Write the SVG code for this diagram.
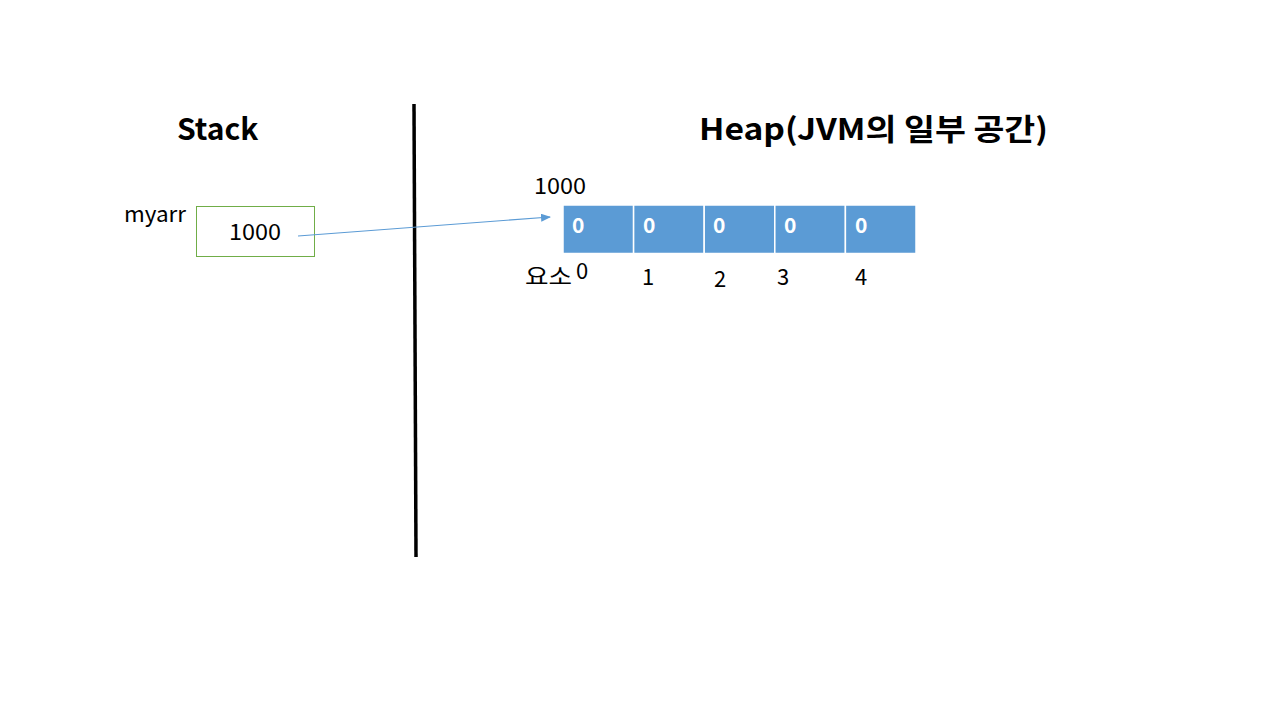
<svg xmlns="http://www.w3.org/2000/svg" width="1280" height="720" viewBox="0 0 1280 720">
<defs>
<style>
text{font-family:"Noto Sans CJK KR","Noto Sans",sans-serif;fill:#000}
.title{font-size:30px;font-weight:bold}
.lbl{font-size:22px}
.cell{fill:#5B9BD5;stroke:#fff;stroke-width:1.5}
.cv{font-size:21px;font-weight:bold;fill:#fff}
</style>
<marker id="ah" markerWidth="10" markerHeight="8" refX="9" refY="4" orient="auto" markerUnits="userSpaceOnUse">
<path d="M0,0 L10,4 L0,8 z" fill="#5B9BD5"/>
</marker>
</defs>
<rect width="1280" height="720" fill="#fff"/>
<g id="divider"><line x1="414" y1="104" x2="416" y2="557" stroke="#000" stroke-width="3.5"/></g>
<g id="stack-title"><text class="title" x="177" y="140">Stack</text></g>
<g id="heap-title"><text class="title" x="699" y="140" textLength="349" lengthAdjust="spacingAndGlyphs">Heap(JVM의 일부 공간)</text></g>
<g id="myarr">
<text class="lbl" x="124" y="222" textLength="62" lengthAdjust="spacingAndGlyphs">myarr</text>
<rect x="196.5" y="206.5" width="118" height="50" fill="#fff" stroke="#70AD47" stroke-width="1"/>
<text class="lbl" x="229" y="240" textLength="52" lengthAdjust="spacingAndGlyphs">1000</text>
</g>
<g id="array">
<text class="lbl" x="534" y="194" textLength="52" lengthAdjust="spacingAndGlyphs">1000</text>
<rect class="cell" x="563" y="205" width="70.6" height="48.5"/>
<rect class="cell" x="633.6" y="205" width="70.6" height="48.5"/>
<rect class="cell" x="704.2" y="205" width="70.6" height="48.5"/>
<rect class="cell" x="774.8" y="205" width="70.6" height="48.5"/>
<rect class="cell" x="845.4" y="205" width="70.6" height="48.5"/>
<text class="cv" x="572" y="233">0</text>
<text class="cv" x="643" y="233">0</text>
<text class="cv" x="713" y="233">0</text>
<text class="cv" x="784" y="233">0</text>
<text class="cv" x="855" y="233">0</text>
<text class="lbl" x="525" y="284" textLength="47" lengthAdjust="spacingAndGlyphs">요소</text>
<text class="lbl" x="582" y="279" text-anchor="middle">0</text>
<text class="lbl" x="648" y="285" text-anchor="middle">1</text>
<text class="lbl" x="720" y="287" text-anchor="middle">2</text>
<text class="lbl" x="783" y="285" text-anchor="middle">3</text>
<text class="lbl" x="861" y="285" text-anchor="middle">4</text>
</g>
<g id="connectors">
<line x1="298" y1="236" x2="550" y2="217" stroke="#5B9BD5" stroke-width="1.2" marker-end="url(#ah)"/>
</g>
</svg>
